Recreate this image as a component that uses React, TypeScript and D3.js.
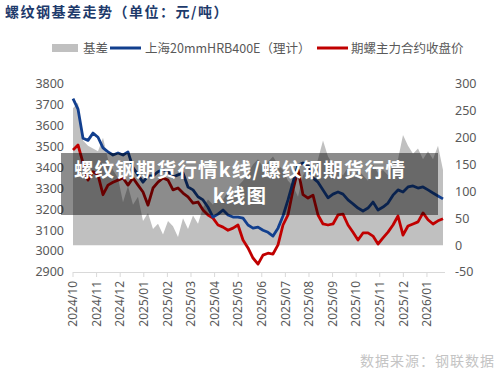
import * as d3 from "d3";

// month tick labels (one per month, evenly spaced)
const monthLabels = [
  "2024/10", "2024/11", "2024/12", "2025/01", "2025/02", "2025/03", "2025/04", "2025/05",
  "2025/06", "2025/07", "2025/08", "2025/09", "2025/10", "2025/11", "2025/12", "2026/01",
];

// position (in months from 2024/10) of the last observation
const LAST_POS = 15.68;

// 上海20mmHRB400E（理计）
const spotPrice = [
  3730, 3680, 3540, 3530, 3565, 3545, 3494, 3475, 3460, 3470,
  3460, 3475, 3400, 3365, 3330, 3360, 3360, 3380, 3390, 3380,
  3355, 3365, 3374, 3307, 3293, 3260, 3245, 3210, 3163, 3177,
  3197, 3173, 3163, 3163, 3158, 3125, 3110, 3115, 3100, 3090,
  3072, 3110, 3168, 3245, 3330, 3412, 3422, 3412, 3350, 3330,
  3293, 3255, 3273, 3283, 3273, 3245, 3226, 3206, 3192, 3206,
  3235, 3197, 3211, 3230, 3268, 3293, 3283, 3307, 3312, 3302,
  3307, 3293, 3278, 3264, 3250,
];

// 期螺主力合约收盘价
const futuresPrice = [
  3484, 3508, 3422, 3340, 3380, 3365, 3270, 3316, 3330, 3340,
  3350, 3316, 3350, 3316, 3283, 3220, 3302, 3330, 3350, 3340,
  3293, 3302, 3278, 3260, 3230, 3235, 3197, 3173, 3158, 3125,
  3115, 3100, 3110, 3125, 3053, 3015, 2967, 2938, 2981, 2990,
  2986, 3030, 3125, 3173, 3293, 3390, 3270, 3254, 3268, 3173,
  3130, 3125, 3130, 3173, 3177, 3125, 3090, 3053, 3087, 3087,
  3072, 3034, 3063, 3091, 3125, 3168, 3077, 3120, 3130, 3140,
  3183, 3150, 3130, 3145, 3155,
];

// 基差 (right axis)
const basis = [
  255, 265, 195, 185, 180, 175, 200, 160, 140, 125,
  80, 110, 75, 90, 45, 60, 30, 40, 20, 45,
  35, 15, 50, 30, 55, 40, 70, 85, 75, 95,
  85, 100, 90, 110, 120, 135, 150, 160, 145, 155,
  165, 150, 140, 120, 110, 90, 130, 145, 135, 160,
  195, 165, 150, 140, 130, 145, 125, 140, 130, 120,
  150, 135, 140, 130, 150, 160, 205, 185, 170, 180,
  160, 175, 160, 185, 140,
];

const leftTicks = [2900, 3000, 3100, 3200, 3300, 3400, 3500, 3600, 3700, 3800];
const rightTicks = [-50, 0, 50, 100, 150, 200, 250, 300];

const W = 500;
const H = 370;
const PLOT = { left: 73, right: 443, top: 84, bottom: 272 };
const FONT = "'Noto Sans', 'Noto Sans CJK SC', sans-serif";
const CJK = "'Noto Sans CJK SC', 'Noto Sans', sans-serif";
const BLUE = "#123f8e";
const RED = "#c00000";
const GREY = "#c0c0c0";

export default function App() {
  const x = d3.scaleLinear().domain([0, LAST_POS]).range([PLOT.left, PLOT.right]);
  const yLeft = d3.scaleLinear().domain([2900, 3800]).range([PLOT.bottom, PLOT.top]);
  const yRight = d3.scaleLinear().domain([-50, 300]).range([PLOT.bottom, PLOT.top]);

  const n = spotPrice.length;
  const pos = (i: number) => x((i / (n - 1)) * LAST_POS);

  const area = d3
    .area<number>()
    .x((_, i) => pos(i))
    .y0(yRight(0))
    .y1((d) => yRight(d));

  const lineLeft = d3
    .line<number>()
    .x((_, i) => pos(i))
    .y((d) => yLeft(d));

  return (
    <svg
      width={W}
      height={H}
      style={{ position: "absolute", left: 0, top: 0, background: "#fff" }}
    >
      {/* title */}
      <text
        x={5}
        y={17}
        fontFamily={CJK}
        fontWeight={700}
        fontSize={14}
        letterSpacing={1.5}
        fill="#1d3a6b"
      >
        螺纹钢基差走势（单位：元/吨）
      </text>

      {/* legend */}
      <g fontFamily={CJK} fontSize={12.5} fill="#595959">
        <rect x={52} y={44} width={26} height={8} fill={GREY} />
        <text x={83} y={53}>基差</text>
        <line x1={110} x2={141} y1={48} y2={48} stroke={BLUE} strokeWidth={3} />
        <text x={145} y={53}>上海20mmHRB400E（理计）</text>
        <line x1={317} x2={348} y1={48} y2={48} stroke={RED} strokeWidth={3} />
        <text x={351} y={53}>期螺主力合约收盘价</text>
      </g>

      {/* basis area */}
      <path d={area(basis) ?? ""} fill={GREY} />

      {/* bottom axis */}
      <line
        x1={PLOT.left}
        x2={PLOT.right + 2}
        y1={PLOT.bottom + 0.5}
        y2={PLOT.bottom + 0.5}
        stroke="#d9d9d9"
      />
      {monthLabels.map((m, i) => (
        <g key={m} transform={`translate(${x(i)},0)`}>
          <line y1={PLOT.bottom} y2={PLOT.bottom + 5} stroke="#d9d9d9" />
          <text
            transform={`translate(0,${PLOT.bottom + 9}) rotate(-90)`}
            textAnchor="end"
            dy="0.35em"
            fontFamily={FONT}
            fontSize={12}
            fill="#595959"
          >
            {m}
          </text>
        </g>
      ))}

      {/* left axis labels */}
      {leftTicks.map((t) => (
        <text
          key={t}
          x={64}
          y={yLeft(t)}
          dy="0.35em"
          textAnchor="end"
          fontFamily={FONT}
          fontSize={12.5}
          fill="#595959"
        >
          {t}
        </text>
      ))}

      {/* right axis labels */}
      {rightTicks.map((t) => (
        <text
          key={t}
          x={455}
          y={yRight(t)}
          dy="0.35em"
          textAnchor="start"
          fontFamily={FONT}
          fontSize={12.5}
          fill="#595959"
        >
          {t}
        </text>
      ))}

      {/* price lines */}
      <path
        d={lineLeft(futuresPrice) ?? ""}
        fill="none"
        stroke={RED}
        strokeWidth={2.8}
        strokeLinejoin="round"
      />
      <path
        d={lineLeft(spotPrice) ?? ""}
        fill="none"
        stroke={BLUE}
        strokeWidth={2.8}
        strokeLinejoin="round"
      />

      {/* watermark overlay */}
      <rect x={61} y={153} width={377} height={62} fill="rgba(0,0,0,0.45)" />
      <g
        fontFamily={CJK}
        fontWeight={700}
        fontSize={19.5}
        letterSpacing={1.2}
        fill="#fff"
        textAnchor="middle"
      >
        <text x={240} y={177}>螺纹钢期货行情k线/螺纹钢期货行情</text>
        <text x={240} y={203}>k线图</text>
      </g>

      {/* source */}
      <text
        x={360}
        y={366}
        fontFamily={CJK}
        fontSize={14}
        letterSpacing={1}
        fill="#c4c4c4"
      >
        数据来源：钢联数据
      </text>
    </svg>
  );
}
